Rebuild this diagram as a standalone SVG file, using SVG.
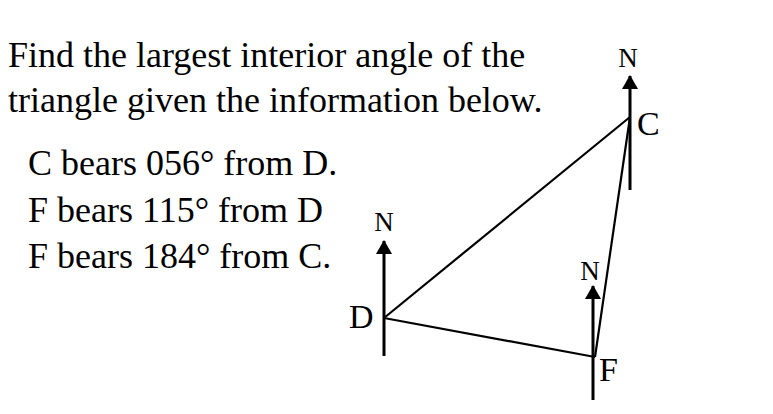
<svg xmlns="http://www.w3.org/2000/svg" width="773" height="414" viewBox="0 0 773 414">
<style>
text{font-family:"Liberation Serif","Times New Roman",serif;fill:#000}
.t{font-size:36px}
.n{font-size:27px;text-anchor:middle}
.v{font-size:34px}
.north{stroke:#000;stroke-width:3;fill:none}
.edge{stroke:#000;stroke-width:2.2;fill:none}
</style>
<defs>
<marker id="ah" markerWidth="14" markerHeight="16" refX="13" refY="8" orient="auto" markerUnits="userSpaceOnUse">
<path d="M0,0 L14,8 L0,16 Z" fill="#000"/>
</marker>
</defs>
<rect width="773" height="414" fill="#fff"/>
<g id="question">
<text class="t" x="8" y="67">Find the largest interior angle of the</text>
<text class="t" x="8" y="112">triangle given the information below.</text>
<text class="t" x="28" y="175">C bears 056° from D.</text>
<text class="t" x="28" y="222">F bears 115° from D</text>
<text class="t" x="28" y="268">F bears 184° from C.</text>
</g>
<g id="connectors">
<line class="edge" x1="384" y1="318" x2="630" y2="117"/>
<line class="edge" x1="384" y1="318" x2="595" y2="357"/>
<line class="edge" x1="630" y1="117" x2="595" y2="357"/>
</g>
<g id="D">
<line class="north" x1="384" y1="356" x2="384" y2="241" marker-end="url(#ah)"/>
<text class="n" x="384" y="231">N</text>
<text class="v" x="349" y="328">D</text>
</g>
<g id="C">
<line class="north" x1="630" y1="190" x2="630" y2="76" marker-end="url(#ah)"/>
<text class="n" x="628" y="67">N</text>
<text class="v" x="637" y="135">C</text>
</g>
<g id="F">
<line class="north" x1="593" y1="400" x2="593" y2="286" marker-end="url(#ah)"/>
<text class="n" x="590" y="280">N</text>
<text class="v" x="599" y="381">F</text>
</g>
</svg>
